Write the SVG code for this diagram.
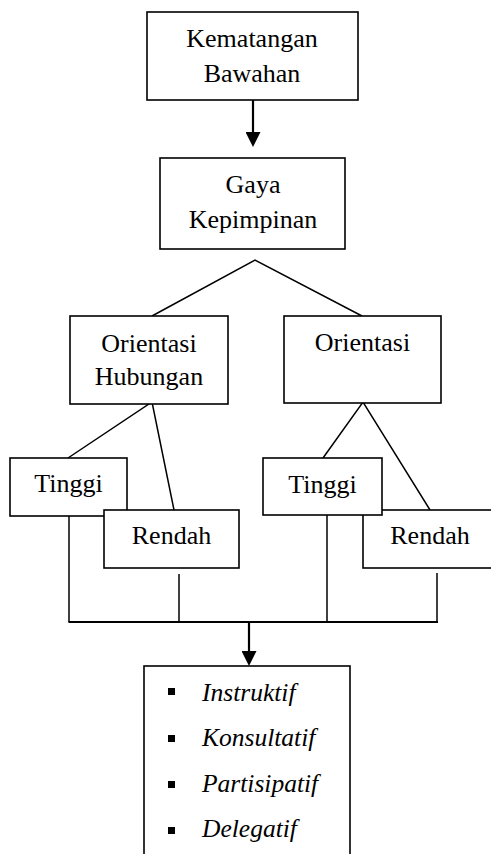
<svg xmlns="http://www.w3.org/2000/svg" width="491" height="854" viewBox="0 0 491 854">
  <style>
    .box { fill: #ffffff; stroke: #000000; stroke-width: 1.6; }
    .lbl { font-family: "Liberation Serif", "Times New Roman", serif; font-size: 26px; fill: #000000; text-anchor: middle; }
    .item { font-family: "Liberation Serif", "Times New Roman", serif; font-size: 25.5px; font-style: italic; fill: #000000; }
    .wire { fill: none; stroke: #000000; stroke-width: 1.5; }
    .flow { fill: none; stroke: #000000; stroke-width: 2.2; }
    .bullet { fill: #000000; }
  </style>
  <defs>
    <marker id="head" viewBox="0 0 15 15" markerWidth="15" markerHeight="15" refX="0" refY="7.5" orient="auto" markerUnits="userSpaceOnUse">
      <path d="M0,0 L15,7.5 L0,15 Z" fill="#000000"/>
    </marker>
  </defs>

  <g id="connectors">
    <line class="flow" x1="253" y1="100" x2="253" y2="132" marker-end="url(#head)"/>
    <polyline class="wire" points="152,316 255,260 362,316"/>
    <polyline class="wire" points="68,458 152,402 174,510"/>
    <polyline class="wire" points="323,458 363,402 430,510"/>
    <line class="wire" x1="69" y1="516" x2="69" y2="622"/>
    <line class="wire" x1="179" y1="574" x2="179" y2="622"/>
    <line class="wire" x1="327" y1="515" x2="327" y2="622"/>
    <line class="wire" x1="437" y1="573" x2="437" y2="622"/>
    <line class="flow" x1="68.5" y1="622" x2="438" y2="622" style="stroke-width:1.8"/>
    <line class="flow" x1="249" y1="622" x2="249" y2="651" marker-end="url(#head)"/>
  </g>

  <g id="node-kematangan">
    <rect class="box" x="147" y="12" width="211" height="88"/>
    <text class="lbl" x="252" y="47">Kematangan</text>
    <text class="lbl" x="252" y="82">Bawahan</text>
  </g>

  <g id="node-gaya">
    <rect class="box" x="160" y="158" width="185" height="91"/>
    <text class="lbl" x="253" y="193">Gaya</text>
    <text class="lbl" x="253" y="228">Kepimpinan</text>
  </g>

  <g id="node-orientasi-hubungan">
    <rect class="box" x="70" y="316" width="158" height="88"/>
    <text class="lbl" x="149" y="352">Orientasi</text>
    <text class="lbl" x="149" y="385">Hubungan</text>
  </g>

  <g id="node-orientasi">
    <rect class="box" x="284" y="316" width="157" height="87"/>
    <text class="lbl" x="362.5" y="351">Orientasi</text>
  </g>

  <g id="node-tinggi-1">
    <rect class="box" x="10" y="458" width="117" height="58"/>
    <text class="lbl" x="68.5" y="492">Tinggi</text>
  </g>

  <g id="node-rendah-1">
    <rect class="box" x="104" y="510" width="135" height="58"/>
    <text class="lbl" x="171.5" y="544">Rendah</text>
  </g>

  <g id="node-rendah-2">
    <rect class="box" x="363" y="510" width="140" height="58"/>
    <text class="lbl" x="430" y="544">Rendah</text>
  </g>

  <g id="node-tinggi-2">
    <rect class="box" x="263" y="458" width="119" height="57"/>
    <text class="lbl" x="322.5" y="493">Tinggi</text>
  </g>

  <g id="node-gaya-list">
    <rect class="box" x="144" y="666" width="206" height="200"/>
    <rect class="bullet" x="168" y="688" width="7" height="7"/>
    <text class="item" x="202" y="701">Instruktif</text>
    <rect class="bullet" x="168" y="735" width="7" height="7"/>
    <text class="item" x="202" y="746">Konsultatif</text>
    <rect class="bullet" x="168" y="781" width="7" height="7"/>
    <text class="item" x="202" y="792">Partisipatif</text>
    <rect class="bullet" x="168" y="827" width="7" height="7"/>
    <text class="item" x="202" y="837">Delegatif</text>
  </g>
</svg>
